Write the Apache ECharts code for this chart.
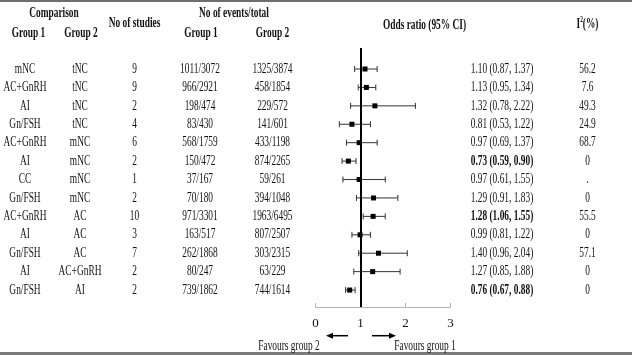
<!DOCTYPE html>
<html>
<head>
<meta charset="utf-8">
<script src="https://cdn.jsdelivr.net/npm/echarts@6/dist/echarts.min.js"></script>
<style>
  html, body { margin: 0; padding: 0; background: #fff; }
  #chart { width: 632px; height: 355px; }
</style>
</head>
<body>
<div id="chart"></div>
<script>
// table data
var group1 = ['mNC', 'AC+GnRH', 'AI', 'Gn/FSH', 'AC+GnRH', 'AI', 'CC', 'Gn/FSH', 'AC+GnRH', 'AI', 'Gn/FSH', 'AI', 'Gn/FSH'];
var group2 = ['tNC', 'tNC', 'tNC', 'tNC', 'mNC', 'mNC', 'mNC', 'mNC', 'AC', 'AC', 'AC', 'AC+GnRH', 'AI'];
var studies = ['9', '9', '2', '4', '6', '2', '1', '2', '10', '3', '7', '2', '2'];
var events1 = ['1011/3072', '966/2921', '198/474', '83/430', '568/1759', '150/472', '37/167', '70/180', '971/3301', '163/517', '262/1868', '80/247', '739/1862'];
var events2 = ['1325/3874', '458/1854', '229/572', '141/601', '433/1198', '874/2265', '59/261', '394/1048', '1963/6495', '807/2507', '303/2315', '63/229', '744/1614'];
var oddsRatio = [1.10, 1.13, 1.32, 0.81, 0.97, 0.73, 0.97, 1.29, 1.28, 0.99, 1.40, 1.27, 0.76];
var ciLow = [0.87, 0.95, 0.78, 0.53, 0.69, 0.59, 0.61, 0.91, 1.06, 0.81, 0.96, 0.85, 0.67];
var ciHigh = [1.37, 1.34, 2.22, 1.22, 1.37, 0.90, 1.55, 1.83, 1.55, 1.22, 2.04, 1.88, 0.88];
var iSquared = ['56.2', '7.6', '49.3', '24.9', '68.7', '0', '.', '0', '55.5', '0', '57.1', '0', '0'];
var significant = [false, false, false, false, false, true, false, false, true, false, false, false, true];
var xTicks = [0, 1, 2, 3];

var FONT = '"Liberation Serif", "Times New Roman", serif';
var FS = 14;
var SX = 0.67;
var INK = '#111';

function txt(x, y, s, bold) {
  return {
    type: 'text', x: x, y: y, scaleX: SX,
    style: {
      text: s, fontFamily: FONT, fontSize: FS, fontWeight: bold ? 'bold' : 'normal',
      fill: INK, align: 'center', verticalAlign: 'middle'
    }
  };
}

var forestData = oddsRatio.map(function (v, i) { return [v, ciLow[i], ciHigh[i], i]; });
var tableData = group1.map(function (g, i) { return [1, i]; });

var chart = echarts.init(document.getElementById('chart'));
var option = {
  animation: false,
  backgroundColor: '#fff',
  grid: { left: 315.5, width: 135, top: 48, height: 259, outerBoundsMode: 'none', containLabel: false },
  xAxis: {
    type: 'value', min: 0, max: 3, interval: 1,
    axisLine: { show: true, onZero: false, lineStyle: { color: '#b5b5b5', width: 1 } },
    axisTick: { show: true, inside: true, length: 4, lineStyle: { color: '#b5b5b5' } },
    splitLine: { show: false },
    axisLabel: { margin: 10, fontFamily: FONT, fontSize: 13, color: INK,
      formatter: function (v) { return xTicks.indexOf(v) >= 0 ? String(v) : ''; } }
  },
  yAxis: {
    type: 'value', min: -1.14, max: 12.92, inverse: true, show: false
  },
  series: [
    {
      type: 'custom',
      data: forestData,
      encode: { x: [0, 1, 2], y: 3 },
      renderItem: function (params, api) {
        var c = api.coord([api.value(0), api.value(3)]);
        var lo = api.coord([api.value(1), api.value(3)]);
        var hi = api.coord([api.value(2), api.value(3)]);
        var lineStyle = { stroke: '#333', lineWidth: 1 };
        return {
          type: 'group',
          children: [
            { type: 'line', shape: { x1: lo[0], y1: lo[1], x2: hi[0], y2: hi[1] }, style: lineStyle },
            { type: 'line', shape: { x1: lo[0], y1: lo[1] - 3, x2: lo[0], y2: lo[1] + 3 }, style: lineStyle },
            { type: 'line', shape: { x1: hi[0], y1: hi[1] - 3, x2: hi[0], y2: hi[1] + 3 }, style: lineStyle },
            { type: 'rect', shape: { x: c[0] - 2.5, y: c[1] - 2.5, width: 5, height: 5 }, style: { fill: '#000' } }
          ]
        };
      },
      markLine: {
        silent: true, symbol: 'none', label: { show: false },
        lineStyle: { color: '#000', width: 2, type: 'solid' },
        data: [{ xAxis: 1 }]
      },
      z: 3
    },
    {
      type: 'custom',
      data: tableData,
      encode: { x: 0, y: 1 },
      clip: false,
      renderItem: function (params, api) {
        var i = params.dataIndex;
        var y = api.coord([1, api.value(1)])[1];
        return {
          type: 'group',
          children: [
            txt(25, y, group1[i]),
            txt(80, y, group2[i]),
            txt(134.5, y, studies[i]),
            txt(200, y, events1[i]),
            txt(272.5, y, events2[i]),
            txt(502, y, oddsRatio[i].toFixed(2) + ' (' + ciLow[i].toFixed(2) + ', ' + ciHigh[i].toFixed(2) + ')', significant[i]),
            txt(587.5, y, iSquared[i])
          ]
        };
      }
    }
  ],
  graphic: [
    { type: 'line', shape: { x1: 0, y1: 1, x2: 632, y2: 1 }, style: { stroke: '#6e6e6e', lineWidth: 2 } },
    { type: 'line', shape: { x1: 0, y1: 353.5, x2: 632, y2: 353.5 }, style: { stroke: '#7a7a7a', lineWidth: 3 } },
    txt(54, 13, 'Comparison', true),
    txt(28.5, 33, 'Group 1', true),
    txt(81, 33, 'Group 2', true),
    txt(134.5, 23, 'No of studies', true),
    txt(234, 13, 'No of events/total', true),
    txt(201, 33, 'Group 1', true),
    txt(272.5, 33, 'Group 2', true),
    txt(424.5, 25, 'Odds ratio (95% CI)', true),
    {
      type: 'text', x: 587.5, y: 24, scaleX: SX,
      style: {
        text: '{a|I}{s|2}{a|(%)}', fontFamily: FONT, fill: INK, align: 'center', verticalAlign: 'middle',
        rich: {
          a: { fontFamily: FONT, fontSize: FS, fontWeight: 'bold', fill: INK },
          s: { fontFamily: FONT, fontSize: 8, fontWeight: 'bold', fill: INK, padding: [0, 0, 9, 0] }
        }
      }
    },
    // arrows
    { type: 'line', shape: { x1: 348, y1: 335.7, x2: 331, y2: 335.7 }, style: { stroke: '#000', lineWidth: 1.5 } },
    { type: 'polygon', shape: { points: [[326, 335.7], [333, 332.7], [333, 338.7]] }, style: { fill: '#000' } },
    { type: 'line', shape: { x1: 372, y1: 335.7, x2: 390, y2: 335.7 }, style: { stroke: '#000', lineWidth: 1.5 } },
    { type: 'polygon', shape: { points: [[396, 335.7], [389, 332.7], [389, 338.7]] }, style: { fill: '#000' } },
    txt(289, 346, 'Favours group 2'),
    txt(425, 346, 'Favours group 1')
  ]
};
chart.setOption(option);
</script>
</body>
</html>
